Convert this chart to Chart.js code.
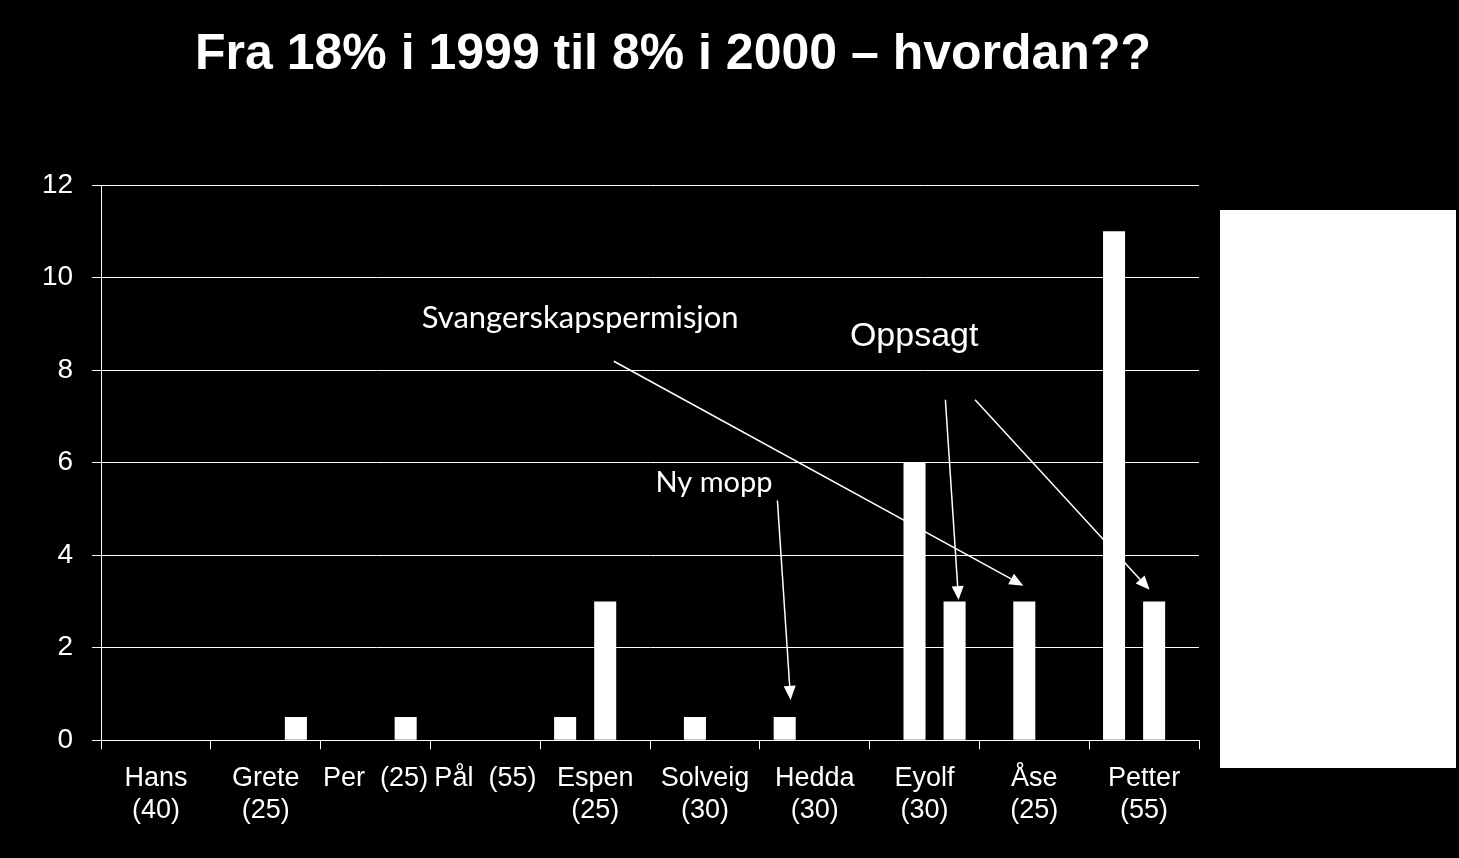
<!DOCTYPE html>
<html>
<head>
<meta charset="utf-8">
<script src="https://cdn.jsdelivr.net/npm/chart.js@4"></script>
<style>
  html, body { margin: 0; padding: 0; background: #000; }
  #wrap { width: 1459px; height: 858px; }
</style>
</head>
<body>
<div id="wrap"><canvas id="myChart" width="1459" height="858"></canvas></div>
<script>
const categories = [
    ['Hans', '(40)'], ['Grete', '(25)'], 'Per  (25)', 'Pål  (55)', ['Espen', '(25)'],
    ['Solveig', '(30)'], ['Hedda', '(30)'], ['Eyolf', '(30)'], ['Åse', '(25)'], ['Petter', '(55)']
];
const serie1 = [0, 0, 0, 0, 0.5, 0, 0.5, 0, 0, 11];
const serie2 = [0, 0, 0, 0, 0, 0.5, 0, 6, 3, 0];
const serie3 = [0, 0, 0, 0, 3, 0, 0, 0, 0, 3];
const serie4 = [0, 0.5, 0.5, 0, 0, 0, 0, 3, 0, 0];
const yTicks = [0, 2, 4, 6, 8, 10, 12];

const titleText = 'Fra 18% i 1999 til 8% i 2000 – hvordan??';

// notes: [category position, value]
const notes = [
    { text: 'Svangerskapspermisjon', at: [2.42, 8.9], font: '31px Lato' },
    { text: 'Oppsagt', at: [6.32, 8.53], font: '34px "Liberation Sans"' },
    { text: 'Ny mopp', at: [4.55, 5.37], font: '29px Lato' }
];
const arrows = [
    [[4.17, 8.19], [7.90, 3.34]],
    [[7.19, 7.36], [7.31, 3.03]],
    [[7.46, 7.36], [9.05, 3.25]],
    [[5.66, 5.18], [5.78, 0.87]]
];

const extras = {
    id: 'extras',
    afterDraw(chart) {
        const ctx = chart.ctx;
        const x = chart.scales.x, y = chart.scales.y;
        const p0 = x.getPixelForValue(0), p1 = x.getPixelForValue(1);
        const px = i => p0 + i * (p1 - p0);
        ctx.save();
        // title
        ctx.fillStyle = '#fff';
        ctx.font = 'bold 50px "Liberation Sans", Arial';
        ctx.textAlign = 'center';
        ctx.textBaseline = 'alphabetic';
        ctx.fillText(titleText, 673, 69);
        // legend box (white)
        ctx.fillRect(1220, 210, 236, 558);
        // notes
        ctx.textAlign = 'left';
        notes.forEach(n => {
            ctx.font = n.font;
            ctx.fillText(n.text, px(n.at[0]), y.getPixelForValue(n.at[1]));
        });
        // arrows
        ctx.strokeStyle = '#fff';
        ctx.lineWidth = 1.5;
        arrows.forEach(a => {
            const x1 = px(a[0][0]), y1 = y.getPixelForValue(a[0][1]);
            const x2 = px(a[1][0]), y2 = y.getPixelForValue(a[1][1]);
            const ang = Math.atan2(y2 - y1, x2 - x1);
            const len = 14, w = 6;
            const bx = x2 - len * Math.cos(ang), by = y2 - len * Math.sin(ang);
            ctx.beginPath();
            ctx.moveTo(x1, y1);
            ctx.lineTo(bx, by);
            ctx.stroke();
            ctx.beginPath();
            ctx.moveTo(x2, y2);
            ctx.lineTo(bx + w * Math.sin(ang), by - w * Math.cos(ang));
            ctx.lineTo(bx - w * Math.sin(ang), by + w * Math.cos(ang));
            ctx.closePath();
            ctx.fill();
        });
        ctx.restore();
    }
};

Chart.defaults.font.family = '"Liberation Sans", Arial, sans-serif';
Chart.defaults.color = '#fff';

const ctx = document.getElementById('myChart');
const bar = d => ({ data: d, backgroundColor: '#fff', borderWidth: 0 });

new Chart(ctx, {
    type: 'bar',
    data: {
        labels: categories,
        datasets: [
            Object.assign({ label: 'Serie 1' }, bar(serie1)),
            Object.assign({ label: 'Serie 2' }, bar(serie2)),
            Object.assign({ label: 'Serie 3' }, bar(serie3)),
            Object.assign({ label: 'Serie 4' }, bar(serie4))
        ]
    },
    options: {
        responsive: false,
        animation: false,
        categoryPercentage: 0.73,
        barPercentage: 1.1,
        layout: {
            padding: { top: 185, left: 23, right: 260, bottom: 18 }
        },
        scales: {
            y: {
                min: 0,
                max: 12,
                afterBuildTicks: axis => { axis.ticks = yTicks.map(v => ({ value: v })); },
                ticks: { font: { size: 28 }, padding: 19, color: '#fff' },
                grid: { color: '#fff', lineWidth: 1, tickLength: 9 },
                border: { color: '#fff', width: 1 }
            },
            x: {
                ticks: { font: { size: 27 }, padding: 13, color: '#fff', autoSkip: false, maxRotation: 0 },
                grid: { color: '#fff', lineWidth: 1, tickLength: 9, drawOnChartArea: false, offset: true },
                border: { color: '#fff', width: 1 }
            }
        },
        plugins: {
            legend: { display: false },
            tooltip: { enabled: false }
        }
    },
    plugins: [extras]
});
</script>
</body>
</html>
